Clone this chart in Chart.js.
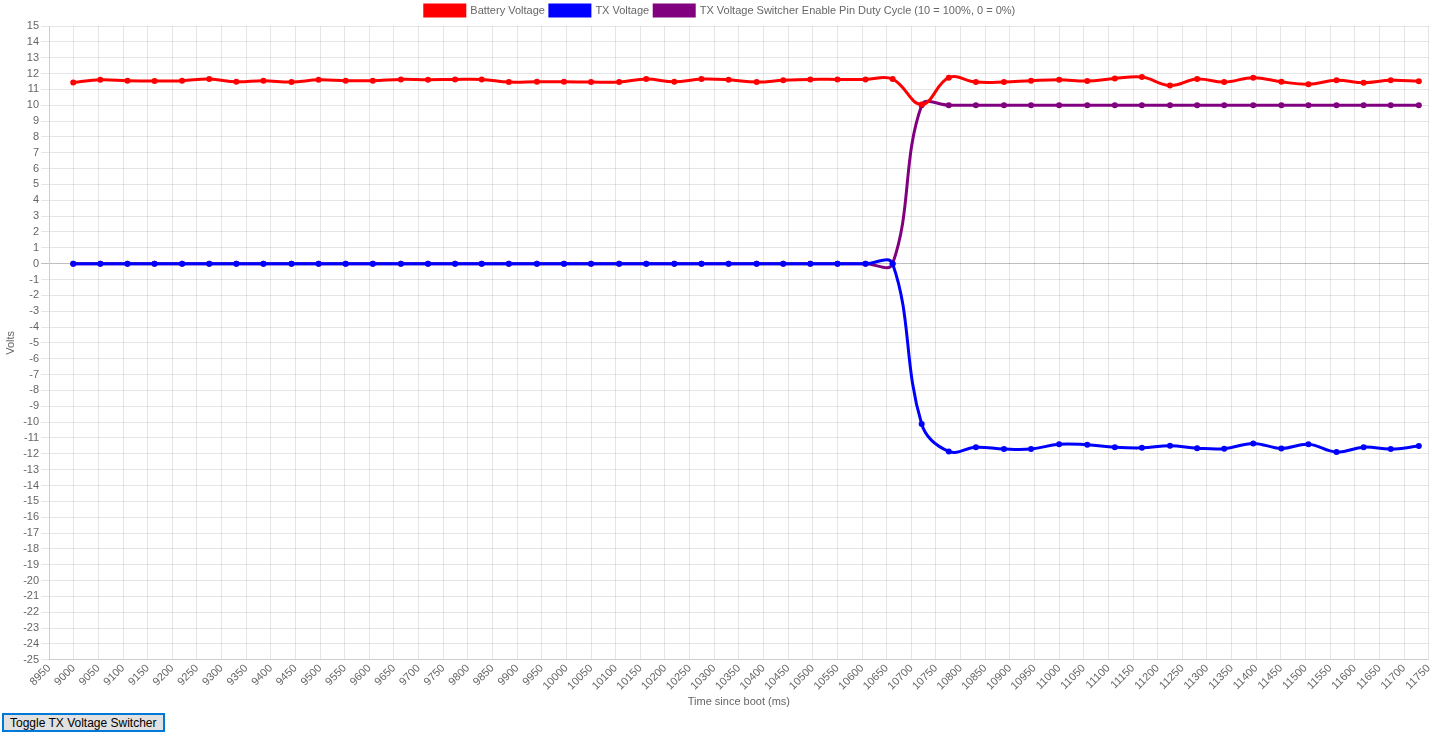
<!DOCTYPE html>
<html>
<head>
<meta charset="utf-8">
<script src="https://cdn.jsdelivr.net/npm/chart.js@4"></script>
<style>
  body { margin: 0; font-family: "Liberation Sans", Arial, sans-serif; }
  #wrap { width: 1440px; height: 713px; position: relative; }
  button {
    display: block; margin: 0 0 0 2px; height: 19px; padding: 0 6px;
    font-size: 12px; font-family: "Liberation Sans", Arial, sans-serif;
    background: #e1e1e1; border: 2px solid #0078d7; color: #000;
  }
</style>
</head>
<body>
<div id="wrap"><canvas id="voltChart"></canvas></div>
<button id="toggleBtn">Toggle TX Voltage Switcher</button>
<script>
// time since boot (ms) for each sample
const times = [8999, 9054, 9109, 9164, 9220, 9275, 9330, 9385, 9442, 9497,
               9552, 9607, 9664, 9719, 9774, 9828, 9883, 9940, 9995, 10050,
               10107, 10162, 10219, 10274, 10329, 10386, 10440, 10495, 10550, 10607,
               10662, 10721, 10776, 10831, 10888, 10943, 11000, 11057, 11113, 11168,
               11225, 11280, 11335, 11394, 11451, 11506, 11563, 11618, 11673, 11730];

const batteryVoltage = [11.44, 11.61, 11.55, 11.53, 11.55, 11.65, 11.48, 11.55, 11.46, 11.61,
                        11.55, 11.55, 11.63, 11.61, 11.63, 11.63, 11.46, 11.48, 11.48, 11.46,
                        11.46, 11.65, 11.48, 11.65, 11.61, 11.46, 11.57, 11.63, 11.63, 11.63,
                        11.65, 10.05, 11.74, 11.46, 11.46, 11.55, 11.61, 11.53, 11.69, 11.78,
                        11.25, 11.65, 11.46, 11.74, 11.48, 11.32, 11.57, 11.42, 11.57, 11.51];

const txVoltage = [0, 0, 0, 0, 0, 0, 0, 0, 0, 0,
                   0, 0, 0, 0, 0, 0, 0, 0, 0, 0,
                   0, 0, 0, 0, 0, 0, 0, 0, 0, 0,
                   0, -10.12, -11.85, -11.58, -11.70, -11.70, -11.39, -11.43, -11.58, -11.62,
                   -11.49, -11.64, -11.68, -11.34, -11.66, -11.40, -11.89, -11.58, -11.70, -11.51];

const dutyCycle = [0, 0, 0, 0, 0, 0, 0, 0, 0, 0,
                   0, 0, 0, 0, 0, 0, 0, 0, 0, 0,
                   0, 0, 0, 0, 0, 0, 0, 0, 0, 0,
                   0, 10, 10, 10, 10, 10, 10, 10, 10, 10,
                   10, 10, 10, 10, 10, 10, 10, 10, 10, 10];

// pair up x/y for a linear x axis
function toPoints(values) {
    return values.map((v, i) => ({ x: times[i], y: v }));
}

function makeSet(label, values, color) {
    return {
        label: label,
        data: toPoints(values),
        borderColor: color,
        backgroundColor: color,
        pointBackgroundColor: color,
        pointBorderColor: color,
        borderWidth: 3,
        pointRadius: 3,
        pointBorderWidth: 0,
        tension: 0.4,
        fill: false,
    };
}

Chart.defaults.font.family = '"Liberation Sans", "Helvetica Neue", Helvetica, Arial, sans-serif';
Chart.defaults.font.size = 11;
Chart.defaults.color = '#666';

new Chart(document.getElementById('voltChart'), {
    type: 'line',
    data: {
        datasets: [
            makeSet('Battery Voltage', batteryVoltage, '#ff0000'),
            makeSet('TX Voltage', txVoltage, '#0000ff'),
            makeSet('TX Voltage Switcher Enable Pin Duty Cycle (10 = 100%, 0 = 0%)', dutyCycle, '#800080'),
        ]
    },
    options: {
        responsive: true,
        maintainAspectRatio: false,
        animation: false,
        plugins: {
            legend: {
                display: true,
                labels: { boxWidth: 40, boxHeight: 11, padding: 5 }
            },
            tooltip: { enabled: false }
        },
        scales: {
            x: {
                type: 'linear',
                min: 8950,
                max: 11750,
                title: { display: true, text: 'Time since boot (ms)', padding: { top: 1, bottom: 4 } },
                ticks: {
                    stepSize: 50, autoSkip: false, maxRotation: 45, minRotation: 45, padding: 2,
                    callback: value => String(value)
                },
                grid: { color: 'rgba(0,0,0,0.1)', drawTicks: false }
            },
            y: {
                min: -25,
                max: 15,
                title: { display: true, text: 'Volts' },
                ticks: { stepSize: 1, autoSkip: false, padding: 2 },
                grid: {
                    color: ctx => (ctx.tick && ctx.tick.value === 0) ? 'rgba(0,0,0,0.25)' : 'rgba(0,0,0,0.1)'
                }
            }
        }
    }
});
</script>
</body>
</html>
